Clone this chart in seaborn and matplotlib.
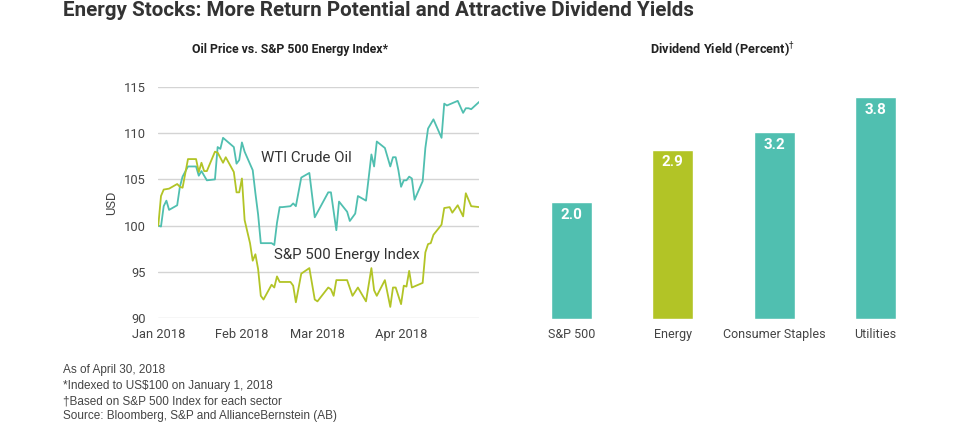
import matplotlib
matplotlib.use("Agg")
import matplotlib.pyplot as plt
import matplotlib.dates as mdates
import pandas as pd
import seaborn as sns
from matplotlib import font_manager

# datos (indice base 100 al 1/1/2018)
wti_dates = ["2018-01-01", "2018-01-02", "2018-01-03", "2018-01-04", "2018-01-05", "2018-01-08",
             "2018-01-09", "2018-01-10", "2018-01-12", "2018-01-15", "2018-01-16", "2018-01-17",
             "2018-01-19", "2018-01-22", "2018-01-23", "2018-01-24", "2018-01-25", "2018-01-29",
             "2018-01-30", "2018-01-31",
             "2018-02-01", "2018-02-02", "2018-02-05", "2018-02-06", "2018-02-07", "2018-02-08",
             "2018-02-12", "2018-02-13", "2018-02-14", "2018-02-15", "2018-02-16", "2018-02-19",
             "2018-02-20", "2018-02-21", "2018-02-23", "2018-02-26", "2018-02-28",
             "2018-03-05", "2018-03-06", "2018-03-08", "2018-03-09", "2018-03-12", "2018-03-13",
             "2018-03-15", "2018-03-16", "2018-03-19", "2018-03-21", "2018-03-22", "2018-03-23",
             "2018-03-26", "2018-03-28", "2018-03-29", "2018-03-30", "2018-03-31",
             "2018-04-01", "2018-04-02", "2018-04-03", "2018-04-04", "2018-04-05", "2018-04-06",
             "2018-04-09", "2018-04-10", "2018-04-11", "2018-04-13", "2018-04-16", "2018-04-17",
             "2018-04-18", "2018-04-22", "2018-04-24", "2018-04-25", "2018-04-26", "2018-04-27",
             "2018-04-30"]
wti_vals = [100.0, 99.9, 102.1, 102.7, 101.7, 102.2, 104.2, 105.3, 106.4, 106.4, 105.4, 105.9,
            104.9, 105.0, 108.5, 108.3, 109.5, 108.5, 106.7, 107.1,
            109.0, 108.0, 106.0, 103.5, 101.2, 98.1, 98.1, 97.9, 100.3, 102.0, 102.0, 102.1,
            102.4, 102.1, 105.2, 105.7, 100.9,
            103.6, 103.6, 99.5, 102.6, 101.5, 100.5, 101.3, 103.2, 102.7, 107.7, 106.4, 109.1,
            108.4, 106.4, 107.4, 107.4, 106.0,
            104.2, 104.9, 104.9, 105.3, 105.1, 102.8, 104.8, 108.4, 110.5, 111.5, 109.5, 113.2,
            113.0, 113.5, 112.2, 112.7, 112.7, 112.6, 113.4]

energy_dates = ["2018-01-01", "2018-01-02", "2018-01-03", "2018-01-05", "2018-01-08", "2018-01-09",
                "2018-01-10", "2018-01-12", "2018-01-15", "2018-01-16", "2018-01-17", "2018-01-18",
                "2018-01-19", "2018-01-22", "2018-01-23", "2018-01-25", "2018-01-26", "2018-01-29",
                "2018-01-30", "2018-01-31",
                "2018-02-01", "2018-02-02", "2018-02-04", "2018-02-05", "2018-02-06", "2018-02-07",
                "2018-02-08", "2018-02-09", "2018-02-12", "2018-02-13", "2018-02-14", "2018-02-15",
                "2018-02-19", "2018-02-20", "2018-02-21", "2018-02-23", "2018-02-26", "2018-02-28",
                "2018-03-01", "2018-03-05", "2018-03-06", "2018-03-07", "2018-03-08", "2018-03-12",
                "2018-03-14", "2018-03-16", "2018-03-19", "2018-03-21", "2018-03-22", "2018-03-23",
                "2018-03-26", "2018-03-28", "2018-03-29", "2018-03-30",
                "2018-04-01", "2018-04-02", "2018-04-03", "2018-04-04", "2018-04-05", "2018-04-09",
                "2018-04-10", "2018-04-11", "2018-04-12", "2018-04-13", "2018-04-16", "2018-04-17",
                "2018-04-19", "2018-04-20", "2018-04-22", "2018-04-24", "2018-04-25", "2018-04-27",
                "2018-04-30"]
energy_vals = [100.0, 103.2, 103.9, 104.0, 104.5, 104.2, 104.1, 107.2, 107.2, 105.8, 106.8, 105.9,
               105.9, 108.0, 107.9, 106.8, 107.4, 105.8, 103.6, 103.6,
               105.1, 100.6, 98.1, 96.2, 96.9, 95.3, 92.4, 92.0, 93.6, 93.3, 94.5, 93.9,
               93.9, 93.5, 91.7, 94.8, 95.4, 92.0,
               91.8, 93.3, 93.1, 92.4, 94.1, 94.1, 92.4, 93.3, 91.8, 95.4, 93.0, 92.4,
               94.1, 91.2, 93.3, 93.3,
               91.5, 93.5, 93.4, 95.1, 93.3, 93.8, 97.1, 98.0, 98.1, 99.0, 100.1, 101.9,
               102.0, 101.4, 102.2, 101.0, 103.5, 102.1, 102.0]

sectores = ["S&P 500", "Energy", "Consumer Staples", "Utilities"]
rendimientos = [2.0, 2.9, 3.2, 3.8]

TEAL = "#50bfb0"
GREEN = "#b2c426"
GRIS = "#444444"

sns.set_theme(style="white")
instaladas = {f.name for f in font_manager.fontManager.ttflist}
angosta = "Liberation Sans Narrow" if "Liberation Sans Narrow" in instaladas else "Roboto"
plt.rcParams["font.family"] = [angosta, "DejaVu Sans"]

wti = pd.DataFrame({"fecha": pd.to_datetime(wti_dates), "valor": wti_vals})
energia = pd.DataFrame({"fecha": pd.to_datetime(energy_dates), "valor": energy_vals})
barras = pd.DataFrame({"sector": sectores, "yield": rendimientos})

fig = plt.figure(figsize=(9.6, 4.24), dpi=100)
fig.patch.set_facecolor("white")

# Bloque 1: lineas
ax1 = fig.add_axes([158.3 / 960, 1 - 318 / 424, (479.3 - 158.3) / 960, 231 / 424])
sns.lineplot(data=wti, x="fecha", y="valor", color=TEAL, lw=1.3, ax=ax1)
sns.lineplot(data=energia, x="fecha", y="valor", color=GREEN, lw=1.3, ax=ax1)
ax1.set_xlim(pd.Timestamp("2018-01-01"), pd.Timestamp("2018-04-30"))
ax1.set_ylim(90, 115)
ax1.set_yticks([90, 95, 100, 105, 110, 115])
ax1.xaxis.set_major_locator(mdates.MonthLocator())
ax1.xaxis.set_major_formatter(mdates.DateFormatter("%b %Y"))
ax1.grid(axis="y", color="#d4d4d4", lw=1)
ax1.grid(axis="x", visible=False)
for s in ax1.spines.values():
    s.set_visible(False)
ax1.tick_params(axis="both", length=0, labelsize=9.3, colors=GRIS)
ax1.tick_params(axis="y", pad=9)
ax1.tick_params(axis="x", pad=7)
ax1.set_xlabel("")
ax1.set_ylabel("USD", fontsize=9.3, color=GRIS, labelpad=4)
ax1.set_facecolor("none")
ax1.text(pd.Timestamp("2018-02-08"), 107.3, "WTI Crude Oil", fontsize=10.8, color="#333333",
         va="center", ha="left")
ax1.text(pd.Timestamp("2018-02-13"), 96.8, "S&P 500 Energy Index", fontsize=10.8, color="#333333",
         va="center", ha="left")

# Bloque 2: barras
ax2 = fig.add_axes([521 / 960, 1 - 318.7 / 424, 405 / 960, 231 / 424])
sns.barplot(data=barras, x="sector", y="yield", hue="sector", palette=[TEAL, GREEN, TEAL, TEAL],
            width=0.405, legend=False, saturation=1, ax=ax2)
ax2.set_xlim(-0.5, 3.5)
ax2.set_ylim(0, 3.96)
ax2.set_yticks([])
ax2.set_xlabel("")
ax2.set_ylabel("")
for s in ax2.spines.values():
    s.set_visible(False)
ax2.tick_params(axis="x", length=0, labelsize=9.0, colors=GRIS, pad=7)
ax2.set_facecolor("none")
for i, v in enumerate(rendimientos):
    ax2.annotate(f"{v:.1f}", (i, v), xytext=(0, -9), textcoords="offset points",
                 ha="center", va="center", color="white", fontsize=11, fontweight="bold")

# textos
fig.text(63 / 960, 1 - 10 / 424, "Energy Stocks: More Return Potential and Attractive Dividend Yields",
         fontsize=14.9, fontweight="bold", color="#333333", va="center", ha="left")
fig.text(290 / 960, 1 - 50 / 424, "Oil Price vs. S&P 500 Energy Index*", fontsize=8.8,
         fontweight="bold", color="#222222", va="center", ha="center")
fig.text(723 / 960, 1 - 50 / 424, "Dividend Yield (Percent)$^{\u2020}$", fontsize=9.2,
         fontweight="bold", color="#222222", va="center", ha="center")

notas = ["As of April 30, 2018",
         "*Indexed to US$100 on January 1, 2018",
         "\u2020Based on S&P 500 Index for each sector",
         "Source: Bloomberg, S&P and AllianceBernstein (AB)"]
for k, nota in enumerate(notas):
    fig.text(63 / 960, 1 - (370 + 15.5 * k) / 424, nota, fontsize=8.5, color=GRIS,
             va="center", ha="left", family=["Liberation Sans", "DejaVu Sans"])

fig.savefig("out.png", dpi=100, facecolor="white")
